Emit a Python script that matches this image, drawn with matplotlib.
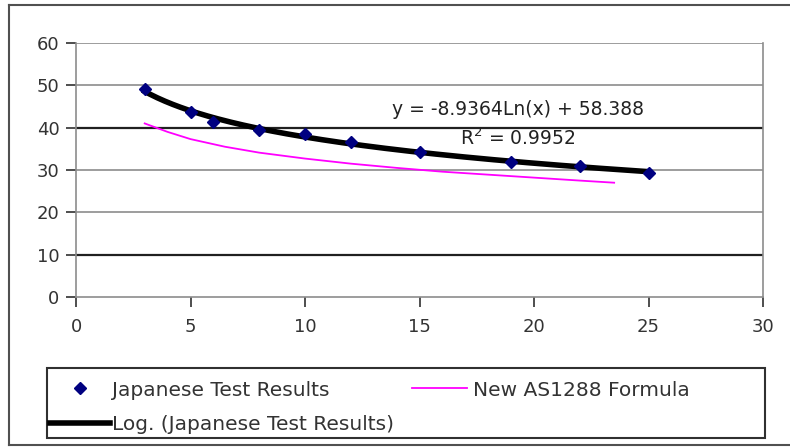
import numpy as np
import matplotlib
matplotlib.use("Agg")
import matplotlib.pyplot as plt
from matplotlib.patches import Rectangle
from matplotlib.lines import Line2D

plt.rcParams['font.family'] = ['DejaVu Sans']

# Japanese test results
jp_x = [3, 5, 6, 8, 10, 12, 15, 19, 22, 25]
jp_y = [49.2, 43.7, 41.4, 39.4, 38.4, 36.7, 34.3, 31.8, 31.0, 29.4]

# New AS1288 formula curve
as_x = [3, 4, 5, 6.5, 8, 10, 12, 14, 16, 18, 20, 22, 23.5]
as_y = [41.0, 39.0, 37.3, 35.5, 34.1, 32.7, 31.5, 30.5, 29.6, 28.9, 28.2, 27.5, 27.0]

x_ticks = [0, 5, 10, 15, 20, 25, 30]
y_ticks = [0, 10, 20, 30, 40, 50, 60]

W, H = 790, 447
fig = plt.figure(figsize=(W / 100, H / 100), dpi=100)
ax = fig.add_axes([76 / W, 1 - 297 / H, (763 - 76) / W, (297 - 43) / H])

# gridlines: scanned chart shows 10 and 40 darker
for yv in y_ticks[1:]:
    dark = yv in (10, 40)
    ax.axhline(yv, color='#202020' if dark else '#8c8c8c',
               lw=1.6 if dark else 1.2, zorder=1)

# log trend fitted to the test results
coef = np.polyfit(np.log(jp_x), jp_y, 1)
tx = np.linspace(min(jp_x), max(jp_x), 200)
ty = np.polyval(coef, np.log(tx))
trend, = ax.plot(tx, ty, color='black', lw=4, zorder=3,
                 label='Log. (Japanese Test Results)')
pink, = ax.plot(as_x, as_y, color='#ff00ff', lw=1.3, zorder=2,
                label='New AS1288 Formula')
pts, = ax.plot(jp_x, jp_y, 'D', color='#000080', ms=6.5, zorder=4,
               label='Japanese Test Results', linestyle='none')

ax.text(13.8, 44.2, 'y = -8.9364Ln(x) + 58.388', fontsize=13.5, color='#222222',
        va='center', ha='left')
ax.text(16.75, 37.4, 'R$^2$ = 0.9952', fontsize=13.5, color='#222222',
        va='center', ha='left')

ax.set_xlim(0, 30)
ax.set_ylim(0, 60)
ax.set_xticks(x_ticks)
ax.set_yticks(y_ticks)
ax.tick_params(direction='out', length=7, width=1.2, color='#303030',
               labelsize=13, labelcolor='#333333', pad=5)
ax.tick_params(axis='x', pad=8)
for s in ax.spines.values():
    s.set_color('#8c8c8c')
    s.set_linewidth(1.2)
ax.spines['top'].set_visible(False)

# outer chart frame: left, top and bottom edges only
fx0, fy_top, fy_bot = 9 / W, 1 - 5 / H, 1 - 445 / H
for xs, ys in [([fx0, fx0], [fy_bot, fy_top]),
               ([fx0, 1.0], [fy_top, fy_top]),
               ([fx0, 1.0], [fy_bot, fy_bot])]:
    fig.add_artist(Line2D(xs, ys, transform=fig.transFigure,
                          color='#505050', lw=1.5))

# legend frame
fig.patches.append(Rectangle((47 / W, 1 - 438 / H), (765 - 47) / W, 70 / H,
                             transform=fig.transFigure, fill=False,
                             edgecolor='#303030', lw=1.5))

# legend entries placed individually as in the original layout
entries = [(pts, 50, 390, 3.0, 0.1),
           (trend, 50, 425, 3.0, 0.1),
           (pink, 412, 390, 2.75, 0.3)]
for h, xl, yc, hl, pad in entries:
    fig.legend(handles=[h], frameon=False, loc='center left',
               bbox_to_anchor=(xl / W, 1 - yc / H), fontsize=14.5,
               handlelength=hl, handletextpad=pad, borderpad=0,
               borderaxespad=0, labelcolor='#333333')

fig.savefig('out.png', dpi=100)
